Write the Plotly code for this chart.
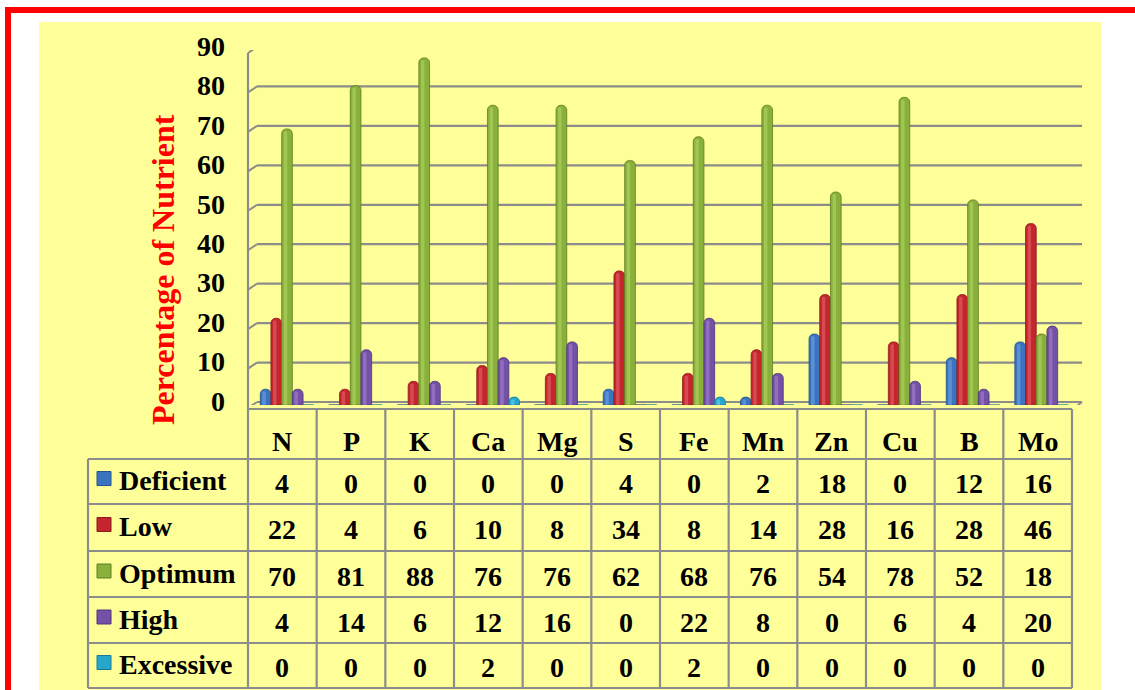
import plotly.graph_objects as go

W, H = 1135, 690

nutrients = ["N", "P", "K", "Ca", "Mg", "S", "Fe", "Mn", "Zn", "Cu", "B", "Mo"]
series_names = ["Deficient", "Low", "Optimum", "High", "Excessive"]
deficient = [4, 0, 0, 0, 0, 4, 0, 2, 18, 0, 12, 16]
low = [22, 4, 6, 10, 8, 34, 8, 14, 28, 16, 28, 46]
optimum = [70, 81, 88, 76, 76, 62, 68, 76, 54, 78, 52, 18]
high = [4, 14, 6, 12, 16, 0, 22, 8, 0, 6, 4, 20]
excessive = [0, 0, 0, 2, 0, 0, 2, 0, 0, 0, 0, 0]
series_values = [deficient, low, optimum, high, excessive]
y_ticks = [0, 10, 20, 30, 40, 50, 60, 70, 80, 90]

colors = ["#3A74C0", "#C4262E", "#89B03A", "#7450A6", "#26A6CB"]
dark = ["#24528E", "#8A1A1F", "#5E7D22", "#4F3478", "#177A98"]
light = ["#78A8E6", "#E8686B", "#B7D86A", "#A88BD2", "#6FD7F2"]

FONT = "Liberation Serif, Times New Roman, serif"


def px(x):
    return x / W


def py(y):
    return 1 - y / H


fig = go.Figure()

grp = 0.78
bw = grp / 5
for i, (name, vals) in enumerate(zip(series_names, series_values)):
    off = -grp / 2 + i * bw
    fig.add_trace(go.Bar(
        x=nutrients, y=vals, name=name, width=bw, offset=off,
        marker=dict(color=colors[i], line=dict(color=dark[i], width=0.8),
                    cornerradius="45%"),
        showlegend=False, hoverinfo="x+y+name"))
    fig.add_trace(go.Bar(
        x=nutrients, y=[max(v - 0.6, 0) for v in vals], width=bw * 0.32,
        offset=off + bw * 0.2,
        marker=dict(color=light[i], opacity=0.55, line=dict(width=0),
                    cornerradius="50%"),
        showlegend=False, hoverinfo="skip"))

shapes = []
# yellow background
shapes.append(dict(type="rect", xref="paper", yref="paper", x0=px(39), x1=px(1101),
                   y0=py(700), y1=py(22), fillcolor="#FFFF99", line=dict(width=0),
                   layer="below"))
# red frame
shapes.append(dict(type="rect", xref="paper", yref="paper", x0=px(8), x1=px(1145),
                   y0=py(705), y1=py(10), line=dict(color="#FF0000", width=6),
                   fillcolor="rgba(0,0,0,0)", layer="below"))

GRID = "#8C8C8C"
# back-wall gridlines with 3D slant at left
for v in y_ticks:
    shapes.append(dict(type="line", xref="paper", yref="y", yanchor=v, ysizemode="pixel",
                       x0=px(257), x1=px(1082), y0=3, y1=3,
                       line=dict(color=GRID, width=2.2), layer="below"))
    shapes.append(dict(type="line", xref="paper", yref="y", yanchor=v, ysizemode="pixel",
                       x0=px(248), x1=px(257), y0=-3, y1=3,
                       line=dict(color=GRID, width=2), layer="below"))
# floor right slant
shapes.append(dict(type="line", xref="paper", yref="y", yanchor=0, ysizemode="pixel",
                   x0=px(1073), x1=px(1082), y0=-4, y1=3,
                   line=dict(color=GRID, width=2), layer="below"))
# left vertical axis line
shapes.append(dict(type="line", xref="paper", yref="paper", x0=px(248), x1=px(248),
                   y0=py(688), y1=py(53), line=dict(color=GRID, width=2.2), layer="below"))

# data table
col_l, col_r = 248, 1072
cw = (col_r - col_l) / 12
row_y = [409, 459, 504, 551, 597, 643, 688]
leg_l = 88
for j, yy in enumerate(row_y):
    x0 = col_l if j == 0 else leg_l
    shapes.append(dict(type="line", xref="paper", yref="paper", x0=px(x0), x1=px(col_r),
                       y0=py(yy), y1=py(yy), line=dict(color=GRID, width=2.2)))
for k in range(1, 13):
    xx = col_l + k * cw
    shapes.append(dict(type="line", xref="paper", yref="paper", x0=px(xx), x1=px(xx),
                       y0=py(409), y1=py(688), line=dict(color=GRID, width=2.2)))
shapes.append(dict(type="line", xref="paper", yref="paper", x0=px(leg_l), x1=px(leg_l),
                   y0=py(459), y1=py(688), line=dict(color=GRID, width=2.2)))

annotations = []


def tfont():
    return dict(family=FONT, size=28, color="black", weight="bold")


for k, name in enumerate(nutrients):
    cx = col_l + (k + 0.5) * cw
    annotations.append(dict(x=px(cx), y=py(441), xref="paper", yref="paper", text=name,
                            showarrow=False, xanchor="center", yanchor="middle", font=tfont()))
    for r, vals in enumerate(series_values):
        cy = (row_y[r + 1] + row_y[r + 2]) / 2 + 2
        annotations.append(dict(x=px(cx), y=py(cy), xref="paper", yref="paper",
                                text=str(vals[k]), showarrow=False, xanchor="center",
                                yanchor="middle", font=tfont()))
for r, name in enumerate(series_names):
    cy = (row_y[r + 1] + row_y[r + 2]) / 2
    shapes.append(dict(type="rect", xref="paper", yref="paper", x0=px(97), x1=px(111),
                       y0=py(cy + 4), y1=py(cy - 10), fillcolor=colors[r],
                       line=dict(color=dark[r], width=1)))
    annotations.append(dict(x=px(117), y=py(cy - 1), xref="paper", yref="paper", text=name,
                            showarrow=False, xanchor="left", yanchor="middle", font=tfont()))

annotations.append(dict(x=px(163), y=py(270), xref="paper", yref="paper",
                        text="Percentage of Nutrient", textangle=-90, showarrow=False,
                        xanchor="center", yanchor="middle",
                        font=dict(family=FONT, size=32, color="#FF0000", weight="bold")))

fig.update_layout(
    width=W, height=H, margin=dict(l=0, r=0, t=0, b=0, pad=0, autoexpand=False),
    paper_bgcolor="white", plot_bgcolor="rgba(0,0,0,0)",
    barmode="overlay", shapes=shapes, annotations=annotations,
    xaxis=dict(domain=[px(248), px(1082)], range=[-0.5685, 11.589], showticklabels=False,
               showgrid=False, zeroline=False, showline=False, ticks="", automargin=False),
    yaxis=dict(domain=[py(405), py(50)], range=[0, 90], tickvals=y_ticks,
               showgrid=False, zeroline=False, showline=False, ticks="", automargin=False,
               ticklabelstandoff=22, ticklabelshift=-4,
               tickfont=dict(family=FONT, size=28, color="black", weight="bold")),
)

fig.write_html("out.html", config={"displayModeBar": False},
               post_script="document.body.style.margin='0';")
